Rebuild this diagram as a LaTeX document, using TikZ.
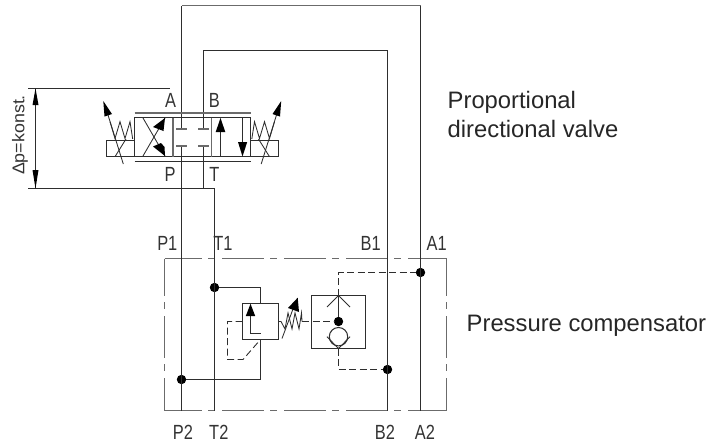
\documentclass[tikz,border=0pt]{standalone}
\usepackage{fontspec}
\setmainfont{Liberation Sans}
\newfontfamily\din[FakeStretch=0.8]{Liberation Sans}
\newfontfamily\dinw[FakeStretch=1.05]{Liberation Sans}
\definecolor{ln}{gray}{0.18}
\definecolor{lg}{gray}{0.42}
\tikzset{
  ink/.style={draw=ln,line width=1.05pt,line cap=butt,line join=miter},
  inkg/.style={draw=lg,line width=1.3pt},
  fine/.style={draw=ln,line width=0.85pt},
  dsh/.style={draw=ln,line width=0.9pt,dash pattern=on 7pt off 3.5pt},
  cdash/.style={draw=lg,line width=1.1pt,dash pattern=on 41.5pt off 6.8pt on 7pt off 6.7pt,dash phase=4.5pt},
  head/.style={fill=black,draw=none},
  dot/.style={circle,fill=black,inner sep=0pt,minimum size=9.4pt},
  lab/.style={font=\din\fontsize{20.5}{20}\selectfont,text=black!80,inner sep=0pt},
  captxt/.style={font=\fontsize{23.8}{24}\selectfont,text=black!85,inner sep=0pt,anchor=base west},
}
\begin{document}
\begin{tikzpicture}[x=1pt,y=-1pt]
\useasboundingbox (0,0) rectangle (711,447);
% port coordinates
\coordinate (vA) at (181.5,129.5);
\coordinate (vB) at (203.5,129.5);
\coordinate (vP) at (181.5,146.5);
\coordinate (vT) at (203.5,146.5);
\coordinate (topL) at (181.5,5.5);
\coordinate (topR) at (420.5,5.5);
\coordinate (inL) at (203.5,50.5);
\coordinate (inR) at (387.5,50.5);
\coordinate (aEnd) at (420.5,410.5);
\coordinate (bEnd) at (387.5,410.5);
\coordinate (pEnd) at (181.5,410.5);
\coordinate (tEnd) at (214.5,410.5);
\coordinate (tBend) at (214.5,188.5);
% junctions
\node[dot] (jT) at (214.5,287.5) {};
\node[dot] (jP) at (181.5,379.5) {};
\node[dot] (jA) at (420.5,272.5) {};
\node[dot] (jB) at (387.5,369.5) {};
\node[dot] (jC) at (338.5,321.5) {};
% manifold outline
\draw[cdash] (164.5,258.5) -- (446.5,258.5);
\draw[cdash] (164.5,410.5) -- (446.5,410.5);
\draw[cdash] (164.5,258.5) -- (164.5,410.5);
\draw[cdash] (446.5,258.5) -- (446.5,410.5);
% main lines
\draw[ink] (vA) -- (topL);
\draw[inkg] (topL) -- (topR);
\draw[ink] (topR) -- (aEnd);
\draw[ink] (vB) -- (inL) -- (inR) -- (bEnd);
\draw[ink] (vP) -- (pEnd);
\draw[ink] (vT) -- (203.5,188.5) -- (tBend) -- (tEnd);
% dimension
\coordinate (dU) at (35.5,88.5);
\coordinate (dD) at (35.5,188.5);
\draw[fine] (28,88.5) -- (170,88.5);
\draw[fine] (28,188.5) -- (tBend);
\draw[ink] (dU) -- (dD);
\fill[head] (dU) -- (38.5,105) -- (32.5,105) -- cycle;
\fill[head] (dD) -- (38.5,170) -- (32.5,170) -- cycle;
\node[font=\dinw\fontsize{17}{18}\selectfont,text=black!80,rotate=90,inner sep=0pt] (dim) at (20,135) {Δp=konst.};
% valve
\draw[ink] (134.5,117.5) rectangle (250.5,156.5);
\draw[inkg] (173,117.5) -- (173,156.5);
\draw[inkg] (211.5,117.5) -- (211.5,156.5);
\draw[inkg] (134.5,113) -- (250.5,113);
\draw[fine] (134.5,161.5) -- (250.5,161.5);
% center port marks
\draw[inkg] (176,129) -- (187,129);
\draw[inkg] (198,129) -- (209,129);
\draw[inkg] (176,146) -- (187,146);
\draw[inkg] (198,146) -- (209,146);
% crossing arrows
\draw[fine] (143,118) -- (165,156);
\draw[fine] (143,156) -- (165,118);
\fill[head] (165,118) -- (163.5,131) -- (153,127) -- cycle;
\fill[head] (165,156) -- (153,146.5) -- (161,143) -- (164.5,147) -- cycle;
% parallel arrows
\draw[fine] (220.5,131) -- (220.5,156.5);
\fill[head] (220.5,118) -- (225.3,132) -- (215.7,132) -- cycle;
\draw[fine] (242.5,117.5) -- (242.5,143);
\fill[head] (242.5,156.5) -- (238,142) -- (247.2,142) -- cycle;
% solenoids
\draw[fine] (106.5,140.5) rectangle (134.5,156.5);
\draw[fine] (110,121.7) -- (115,138.5) -- (120,121.7) -- (125,138.5) -- (130,121.7) -- (132.7,139);
\draw[fine] (108,115) -- (123.3,164);
\draw[fine] (115,156.7) -- (126,139);
\fill[head] (103.3,101) -- (112,114) -- (104.5,116.5) -- cycle;
\begin{scope}[shift={(384.5,0)},xscale=-1]
\draw[fine] (106.5,140.5) rectangle (134,156.5);
\draw[fine] (110,121.7) -- (115,138.5) -- (120,121.7) -- (125,138.5) -- (130,121.7) -- (132.7,139);
\draw[fine] (108,115) -- (123.3,164);
\draw[fine] (115,156.7) -- (126,139);
\fill[head] (103.3,101) -- (112,114) -- (104.5,116.5) -- cycle;
\end{scope}
% relief valve
\coordinate (rTop) at (260.5,303.5);
\coordinate (rBot) at (260.5,339.5);
\draw[ink] (jT) -- (260.5,287.5) -- (rTop);
\draw[ink] (rBot) -- (260.5,379.5) -- (jP);
\draw[ink] (242.5,303.5) rectangle (278.5,339.5);
\draw[fine] (250.5,315) -- (250.5,333.5) -- (260.5,333.5);
\fill[head] (250.5,303.8) -- (255.2,316) -- (245.8,316) -- cycle;
\draw[dsh] (242.5,321.5) -- (227.5,321.5) -- (227.5,359.5) -- (243,359.5) -- (rBot);
% spring
\draw[fine] (278.5,321.5) -- (281,321.5) -- (285,329) -- (288,313) -- (292,329) -- (295,313) -- (299,329) -- (301.5,313) -- (302,321.5);
\draw[fine] (282,338.5) -- (293,309);
\fill[head] (297.7,297.7) -- (299,312) -- (288,308) -- cycle;
\draw[dsh] (302,321.5) -- (jC);
% compensator
\draw[ink] (311.5,295.5) rectangle (365.5,348.5);
\draw[ink] (338.5,295.5) -- (jC);
\draw[fine] (327,307) -- (338.5,295.5) -- (350,307);
\draw[ink] (338.5,336.7) circle (9.2);
\draw[fine] (327,336.7) -- (338.5,348.5) -- (350,336.7);
\draw[dsh] (338.5,295.5) -- (338.5,272.5) -- (jA);
\draw[dsh] (338.5,348.5) -- (338.5,369.5) -- (jB);
% labels
\node[lab] (lA) at (170.5,100) {A};
\node[lab] (lB) at (214.3,100) {B};
\node[lab] (lP) at (170,174.3) {P};
\node[lab] (lT) at (214.3,174.3) {T};
\node[lab] (lP1) at (167.3,243.7) {P1};
\node[lab] (lT1) at (223,243.7) {T1};
\node[lab] (lB1) at (370.7,243.7) {B1};
\node[lab] (lA1) at (436.7,243.7) {A1};
\node[lab] (lP2) at (183,432.5) {P2};
\node[lab] (lT2) at (218.8,432.5) {T2};
\node[lab] (lB2) at (385,432.5) {B2};
\node[lab] (lA2) at (425,432.5) {A2};
\node[captxt] (c1) at (447.5,108) {Proportional};
\node[captxt] (c2) at (447.5,137.7) {directional valve};
\node[captxt] (c3) at (466.5,331) {Pressure compensator};
\end{tikzpicture}
\end{document}
